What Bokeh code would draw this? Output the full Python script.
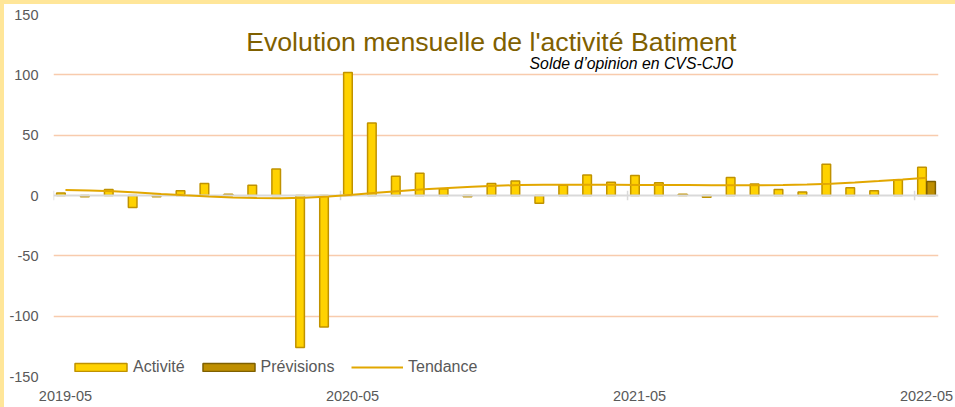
import numpy as np
import pandas as pd
from bokeh.plotting import figure
from bokeh.models import (Range1d, ColumnDataSource, FixedTicker,
                          Legend, LegendItem, Label)
from bokeh.transform import dodge
from bokeh.embed import file_html
from bokeh.resources import INLINE

# ---------------- data ----------------
months = [p.strftime("%Y-%m") for p in pd.period_range("2019-05", "2022-05", freq="M")]

activite = [2, -1, 5, -10, -1, 4, 10, 1, 8.5, 22,
            -126, -109, 102, 60, 16, 18.5, 5.5, -1, 10, 12,
            -6.5, 8.5, 17, 11, 16.5, 10.5, 1, -1.5, 15, 9.5,
            5, 3, 26, 6.5, 4, 13, 23.5]

previsions = [np.nan] * 36 + [11.5]

tendance = [4.5, 4.2, 3.6, 2.5, 1.3, 0.2, -0.8, -1.6, -2.1, -2.2,
            -1.8, -0.8, 0.7, 2.3, 3.8, 5.2, 6.3, 7.3, 8.1, 8.6,
            8.9, 9.0, 9.0, 8.9, 8.8, 8.7, 8.6, 8.5, 8.4, 8.4,
            8.6, 9.1, 9.8, 10.8, 12.0, 13.3, 14.8]

x_tick_labels = ["2019-05", "2020-05", "2021-05", "2022-05"]
y_ticks = [-150, -100, -50, 0, 50, 100, 150]
grid_values = [-150, -100, -50, 50, 100, 150]

series_names = ["Activité", "Prévisions", "Tendance"]
title_text = "Evolution mensuelle de l'activité Batiment"
subtitle_text = "Solde d’opinion en CVS-CJO"

# ---------------- style ----------------
FONT = "Liberation Sans"
GRAY_TXT = "#595959"
ACT_FILL, ACT_LINE = "#FFD200", "#C09200"
PREV_FILL, PREV_LINE = "#BF8F00", "#7F6000"
TREND = "#E2A700"
FRAME_YELLOW = "#FFE699"

month_idx = list(range(len(months)))
tick_idx = [months.index(m) for m in x_tick_labels]

W, H = 955, 407
BL, BR, BT, BB = 53, 17, 14, 31

p = figure(width=W, height=H,
           x_range=Range1d(-0.5, len(months) - 0.5),
           y_range=Range1d(-150, 150),
           output_backend="svg", toolbar_location=None,
           min_border_left=BL, min_border_right=BR,
           min_border_top=BT, min_border_bottom=BB)
p.title.visible = False
p.outline_line_color = None
p.background_fill_color = "white"
p.border_fill_alpha = 0
# white chart area with a thin yellow band along the left and top edges
p.styles = {"background": (f"linear-gradient(to right, {FRAME_YELLOW} 4px, transparent 4px), "
                           f"linear-gradient(to bottom, {FRAME_YELLOW} 4px, white 4px)")}

# axes
p.xaxis.ticker = FixedTicker(ticks=tick_idx)
p.xaxis.major_label_overrides = {i: m for i, m in zip(tick_idx, x_tick_labels)}
p.xaxis.major_tick_line_color = None
p.xaxis.major_tick_out = 0
p.xaxis.major_tick_in = 0
p.xaxis.minor_tick_line_color = None
p.xaxis.axis_line_color = None
p.xaxis.major_label_standoff = 14
p.xaxis.major_label_text_font = FONT
p.xaxis.major_label_text_font_size = "14.5px"
p.xaxis.major_label_text_color = GRAY_TXT

p.yaxis.ticker = FixedTicker(ticks=y_ticks)
p.yaxis.major_label_overrides = {v: str(v) for v in y_ticks}
p.yaxis.major_tick_line_color = None
p.yaxis.major_tick_out = 0
p.yaxis.major_tick_in = 0
p.yaxis.minor_tick_line_color = None
p.yaxis.axis_line_color = None
p.yaxis.major_label_standoff = 15
p.yaxis.major_label_text_font = FONT
p.yaxis.major_label_text_font_size = "14.5px"
p.yaxis.major_label_text_color = GRAY_TXT

p.xgrid.grid_line_color = None
p.ygrid.ticker = FixedTicker(ticks=grid_values)
p.ygrid.grid_line_color = "#F8CBAD"
p.ygrid.grid_line_width = 1.5

# glyphs
src = ColumnDataSource(dict(x=month_idx, month=months,
                            activite=np.array(activite, dtype=float),
                            previsions=np.array(previsions, dtype=float),
                            tendance=np.array(tendance, dtype=float)))

r_act = p.vbar(x=dodge("x", -0.19), top="activite", bottom=0,
               width=0.36, source=src, fill_color=ACT_FILL, line_color=ACT_LINE,
               line_width=1.5)
r_prev = p.vbar(x=dodge("x", 0.19), top="previsions", bottom=0,
                width=0.36, source=src, fill_color=PREV_FILL, line_color=PREV_LINE,
                line_width=1.5)

p.hspan(y=[0], line_color="#D9D9D9", line_width=2)

tick_src = ColumnDataSource(dict(x=tick_idx))
p.segment(x0=dodge("x", -0.5), y0=-4, x1=dodge("x", -0.5), y1=4,
          source=tick_src, line_color="#D9D9D9", line_width=1.5)

r_tend = p.line(x="x", y="tendance", source=src, line_color=TREND, line_width=2)

# legends (bars and line separately so each glyph gets its own width)
common = dict(orientation="horizontal", padding=0, margin=0,
              background_fill_alpha=0, border_line_color=None,
              label_text_font=FONT, label_text_font_size="16px",
              label_text_color=GRAY_TXT)
leg_bars = Legend(items=[LegendItem(label=series_names[0], renderers=[r_act]),
                         LegendItem(label=series_names[1], renderers=[r_prev])],
                  location=(15, 0), glyph_width=65, glyph_height=10,
                  label_standoff=-1, spacing=11, **common)
leg_line = Legend(items=[LegendItem(label=series_names[2], renderers=[r_tend])],
                  location=(298, 0), glyph_width=52, glyph_height=10,
                  label_standoff=5, **common)
p.add_layout(leg_bars)
p.add_layout(leg_line)

# titles
p.add_layout(Label(x=17.8, y=127.5, text=title_text, text_align="center",
                   text_baseline="alphabetic", text_font=FONT,
                   text_font_size="26.7px", text_color="#7F6000"))
p.add_layout(Label(x=27.92, y=109.5, text=subtitle_text, text_align="right",
                   text_baseline="alphabetic", text_font=FONT,
                   text_font_size="15.8px", text_font_style="italic",
                   text_color="black"))

open("out.html", "w").write(file_html(p, INLINE))
